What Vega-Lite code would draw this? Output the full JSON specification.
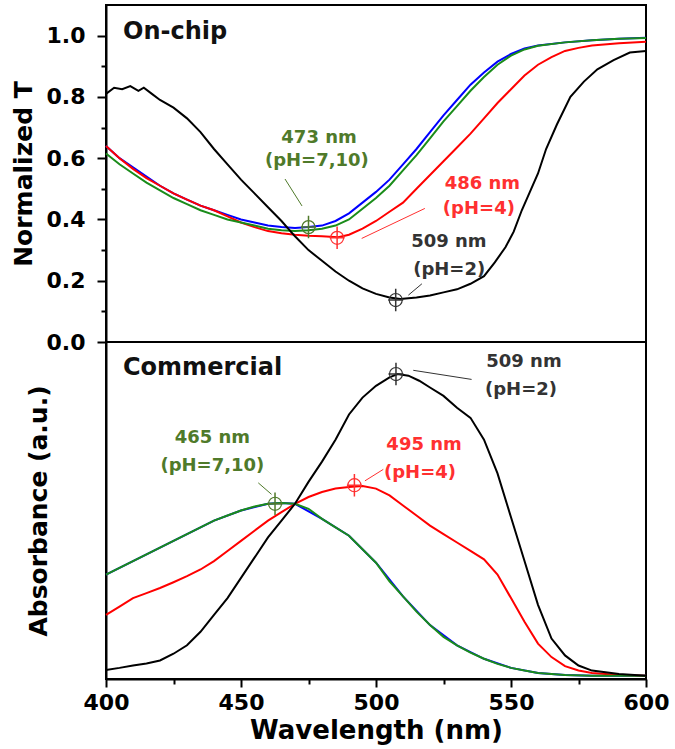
{
  "$schema": "https://vega.github.io/schema/vega-lite/v6.json",
  "padding": {"left": 10, "top": 4, "right": 5, "bottom": 2},
  "background": "white",
  "spacing": 0,
  "bounds": "flush",
  "config": {
    "view": {"stroke": "black", "strokeWidth": 2},
    "font": "DejaVu Sans",
    "axis": {
      "domainColor": "black", "domainWidth": 2, "tickColor": "black", "tickWidth": 2,
      "labelColor": "black", "labelFont": "DejaVu Sans", "labelFontWeight": "bold", "labelFontSize": 22,
      "titleFont": "DejaVu Sans", "titleFontWeight": "bold", "titleFontSize": 25, "titleColor": "black",
      "grid": false, "labelFlush": false, "labelOverlap": false
    }
  },
  "resolve": {"scale": {"x": "independent", "y": "independent"}, "axis": {"x": "independent", "y": "independent"}},
  "datasets": {
    "onchip": [
      {"k":"pH=10","wl":400,"v":0.64},{"k":"pH=10","wl":405,"v":0.6},{"k":"pH=10","wl":410,"v":0.57},{"k":"pH=10","wl":415,"v":0.54},{"k":"pH=10","wl":420,"v":0.51},{"k":"pH=10","wl":425,"v":0.485},{"k":"pH=10","wl":430,"v":0.465},{"k":"pH=10","wl":435,"v":0.445},{"k":"pH=10","wl":440,"v":0.43},{"k":"pH=10","wl":445,"v":0.415},{"k":"pH=10","wl":450,"v":0.4},{"k":"pH=10","wl":455,"v":0.39},{"k":"pH=10","wl":460,"v":0.38},{"k":"pH=10","wl":465,"v":0.375},{"k":"pH=10","wl":470,"v":0.372},{"k":"pH=10","wl":475,"v":0.375},{"k":"pH=10","wl":480,"v":0.38},{"k":"pH=10","wl":485,"v":0.395},{"k":"pH=10","wl":490,"v":0.42},{"k":"pH=10","wl":495,"v":0.455},{"k":"pH=10","wl":500,"v":0.49},{"k":"pH=10","wl":505,"v":0.53},{"k":"pH=10","wl":510,"v":0.58},{"k":"pH=10","wl":515,"v":0.63},{"k":"pH=10","wl":520,"v":0.685},{"k":"pH=10","wl":525,"v":0.74},{"k":"pH=10","wl":530,"v":0.79},{"k":"pH=10","wl":535,"v":0.84},{"k":"pH=10","wl":540,"v":0.88},{"k":"pH=10","wl":545,"v":0.915},{"k":"pH=10","wl":550,"v":0.94},{"k":"pH=10","wl":555,"v":0.958},{"k":"pH=10","wl":560,"v":0.968},{"k":"pH=10","wl":570,"v":0.978},{"k":"pH=10","wl":580,"v":0.985},{"k":"pH=10","wl":590,"v":0.99},{"k":"pH=10","wl":600,"v":0.993},
      {"k":"pH=4","wl":400,"v":0.64},{"k":"pH=4","wl":405,"v":0.6},{"k":"pH=4","wl":410,"v":0.565},{"k":"pH=4","wl":415,"v":0.535},{"k":"pH=4","wl":420,"v":0.51},{"k":"pH=4","wl":425,"v":0.485},{"k":"pH=4","wl":430,"v":0.465},{"k":"pH=4","wl":435,"v":0.445},{"k":"pH=4","wl":440,"v":0.43},{"k":"pH=4","wl":445,"v":0.41},{"k":"pH=4","wl":450,"v":0.39},{"k":"pH=4","wl":455,"v":0.375},{"k":"pH=4","wl":460,"v":0.362},{"k":"pH=4","wl":465,"v":0.355},{"k":"pH=4","wl":470,"v":0.35},{"k":"pH=4","wl":475,"v":0.347},{"k":"pH=4","wl":480,"v":0.345},{"k":"pH=4","wl":486,"v":0.342},{"k":"pH=4","wl":490,"v":0.35},{"k":"pH=4","wl":495,"v":0.37},{"k":"pH=4","wl":500,"v":0.395},{"k":"pH=4","wl":505,"v":0.425},{"k":"pH=4","wl":510,"v":0.455},{"k":"pH=4","wl":515,"v":0.5},{"k":"pH=4","wl":520,"v":0.545},{"k":"pH=4","wl":525,"v":0.59},{"k":"pH=4","wl":530,"v":0.635},{"k":"pH=4","wl":535,"v":0.68},{"k":"pH=4","wl":540,"v":0.73},{"k":"pH=4","wl":545,"v":0.78},{"k":"pH=4","wl":550,"v":0.825},{"k":"pH=4","wl":555,"v":0.87},{"k":"pH=4","wl":560,"v":0.905},{"k":"pH=4","wl":565,"v":0.93},{"k":"pH=4","wl":570,"v":0.95},{"k":"pH=4","wl":575,"v":0.96},{"k":"pH=4","wl":580,"v":0.968},{"k":"pH=4","wl":590,"v":0.975},{"k":"pH=4","wl":600,"v":0.98},
      {"k":"pH=7","wl":400,"v":0.615},{"k":"pH=7","wl":405,"v":0.58},{"k":"pH=7","wl":410,"v":0.55},{"k":"pH=7","wl":415,"v":0.52},{"k":"pH=7","wl":420,"v":0.495},{"k":"pH=7","wl":425,"v":0.47},{"k":"pH=7","wl":430,"v":0.45},{"k":"pH=7","wl":435,"v":0.43},{"k":"pH=7","wl":440,"v":0.415},{"k":"pH=7","wl":445,"v":0.4},{"k":"pH=7","wl":450,"v":0.39},{"k":"pH=7","wl":455,"v":0.38},{"k":"pH=7","wl":460,"v":0.37},{"k":"pH=7","wl":465,"v":0.365},{"k":"pH=7","wl":470,"v":0.362},{"k":"pH=7","wl":475,"v":0.365},{"k":"pH=7","wl":480,"v":0.37},{"k":"pH=7","wl":485,"v":0.38},{"k":"pH=7","wl":490,"v":0.4},{"k":"pH=7","wl":495,"v":0.435},{"k":"pH=7","wl":500,"v":0.47},{"k":"pH=7","wl":505,"v":0.51},{"k":"pH=7","wl":510,"v":0.56},{"k":"pH=7","wl":515,"v":0.61},{"k":"pH=7","wl":520,"v":0.665},{"k":"pH=7","wl":525,"v":0.72},{"k":"pH=7","wl":530,"v":0.77},{"k":"pH=7","wl":535,"v":0.82},{"k":"pH=7","wl":540,"v":0.865},{"k":"pH=7","wl":545,"v":0.905},{"k":"pH=7","wl":550,"v":0.935},{"k":"pH=7","wl":555,"v":0.955},{"k":"pH=7","wl":560,"v":0.967},{"k":"pH=7","wl":570,"v":0.978},{"k":"pH=7","wl":580,"v":0.985},{"k":"pH=7","wl":590,"v":0.99},{"k":"pH=7","wl":600,"v":0.992},
      {"k":"pH=2","wl":400,"v":0.81},{"k":"pH=2","wl":403,"v":0.83},{"k":"pH=2","wl":406,"v":0.825},{"k":"pH=2","wl":409,"v":0.835},{"k":"pH=2","wl":412,"v":0.82},{"k":"pH=2","wl":414,"v":0.83},{"k":"pH=2","wl":417,"v":0.81},{"k":"pH=2","wl":420,"v":0.79},{"k":"pH=2","wl":425,"v":0.765},{"k":"pH=2","wl":430,"v":0.73},{"k":"pH=2","wl":435,"v":0.685},{"k":"pH=2","wl":440,"v":0.63},{"k":"pH=2","wl":445,"v":0.58},{"k":"pH=2","wl":450,"v":0.53},{"k":"pH=2","wl":455,"v":0.485},{"k":"pH=2","wl":460,"v":0.44},{"k":"pH=2","wl":465,"v":0.395},{"k":"pH=2","wl":470,"v":0.345},{"k":"pH=2","wl":475,"v":0.3},{"k":"pH=2","wl":480,"v":0.265},{"k":"pH=2","wl":485,"v":0.23},{"k":"pH=2","wl":490,"v":0.2},{"k":"pH=2","wl":495,"v":0.175},{"k":"pH=2","wl":500,"v":0.157},{"k":"pH=2","wl":505,"v":0.145},{"k":"pH=2","wl":509,"v":0.14},{"k":"pH=2","wl":515,"v":0.145},{"k":"pH=2","wl":520,"v":0.152},{"k":"pH=2","wl":525,"v":0.162},{"k":"pH=2","wl":530,"v":0.172},{"k":"pH=2","wl":535,"v":0.19},{"k":"pH=2","wl":540,"v":0.215},{"k":"pH=2","wl":544,"v":0.26},{"k":"pH=2","wl":548,"v":0.31},{"k":"pH=2","wl":551,"v":0.36},{"k":"pH=2","wl":554,"v":0.43},{"k":"pH=2","wl":557,"v":0.49},{"k":"pH=2","wl":560,"v":0.55},{"k":"pH=2","wl":563,"v":0.63},{"k":"pH=2","wl":567,"v":0.71},{"k":"pH=2","wl":572,"v":0.8},{"k":"pH=2","wl":577,"v":0.85},{"k":"pH=2","wl":582,"v":0.89},{"k":"pH=2","wl":588,"v":0.92},{"k":"pH=2","wl":594,"v":0.945},{"k":"pH=2","wl":600,"v":0.95}
    ],
    "commercial": [
      {"k":"pH=10","wl":400,"v":0.31},{"k":"pH=10","wl":410,"v":0.35},{"k":"pH=10","wl":420,"v":0.39},{"k":"pH=10","wl":430,"v":0.43},{"k":"pH=10","wl":440,"v":0.47},{"k":"pH=10","wl":450,"v":0.5},{"k":"pH=10","wl":460,"v":0.52},{"k":"pH=10","wl":465,"v":0.522},{"k":"pH=10","wl":470,"v":0.52},{"k":"pH=10","wl":480,"v":0.475},{"k":"pH=10","wl":490,"v":0.425},{"k":"pH=10","wl":500,"v":0.345},{"k":"pH=10","wl":510,"v":0.245},{"k":"pH=10","wl":520,"v":0.16},{"k":"pH=10","wl":530,"v":0.1},{"k":"pH=10","wl":540,"v":0.06},{"k":"pH=10","wl":550,"v":0.033},{"k":"pH=10","wl":560,"v":0.018},{"k":"pH=10","wl":570,"v":0.012},{"k":"pH=10","wl":580,"v":0.01},{"k":"pH=10","wl":600,"v":0.01},
      {"k":"pH=4","wl":400,"v":0.19},{"k":"pH=4","wl":405,"v":0.215},{"k":"pH=4","wl":410,"v":0.24},{"k":"pH=4","wl":415,"v":0.255},{"k":"pH=4","wl":420,"v":0.27},{"k":"pH=4","wl":425,"v":0.287},{"k":"pH=4","wl":430,"v":0.305},{"k":"pH=4","wl":435,"v":0.325},{"k":"pH=4","wl":440,"v":0.35},{"k":"pH=4","wl":445,"v":0.38},{"k":"pH=4","wl":450,"v":0.41},{"k":"pH=4","wl":455,"v":0.44},{"k":"pH=4","wl":460,"v":0.47},{"k":"pH=4","wl":465,"v":0.495},{"k":"pH=4","wl":470,"v":0.52},{"k":"pH=4","wl":475,"v":0.54},{"k":"pH=4","wl":480,"v":0.555},{"k":"pH=4","wl":485,"v":0.565},{"k":"pH=4","wl":490,"v":0.57},{"k":"pH=4","wl":495,"v":0.573},{"k":"pH=4","wl":500,"v":0.565},{"k":"pH=4","wl":505,"v":0.545},{"k":"pH=4","wl":510,"v":0.515},{"k":"pH=4","wl":515,"v":0.485},{"k":"pH=4","wl":520,"v":0.455},{"k":"pH=4","wl":525,"v":0.43},{"k":"pH=4","wl":530,"v":0.405},{"k":"pH=4","wl":535,"v":0.38},{"k":"pH=4","wl":540,"v":0.355},{"k":"pH=4","wl":545,"v":0.31},{"k":"pH=4","wl":550,"v":0.24},{"k":"pH=4","wl":555,"v":0.17},{"k":"pH=4","wl":560,"v":0.105},{"k":"pH=4","wl":565,"v":0.065},{"k":"pH=4","wl":570,"v":0.038},{"k":"pH=4","wl":575,"v":0.025},{"k":"pH=4","wl":580,"v":0.018},{"k":"pH=4","wl":590,"v":0.012},{"k":"pH=4","wl":600,"v":0.01},
      {"k":"pH=7","wl":400,"v":0.31},{"k":"pH=7","wl":405,"v":0.33},{"k":"pH=7","wl":410,"v":0.35},{"k":"pH=7","wl":415,"v":0.37},{"k":"pH=7","wl":420,"v":0.39},{"k":"pH=7","wl":425,"v":0.41},{"k":"pH=7","wl":430,"v":0.43},{"k":"pH=7","wl":435,"v":0.45},{"k":"pH=7","wl":440,"v":0.47},{"k":"pH=7","wl":445,"v":0.485},{"k":"pH=7","wl":450,"v":0.5},{"k":"pH=7","wl":455,"v":0.512},{"k":"pH=7","wl":460,"v":0.52},{"k":"pH=7","wl":465,"v":0.522},{"k":"pH=7","wl":470,"v":0.52},{"k":"pH=7","wl":475,"v":0.505},{"k":"pH=7","wl":480,"v":0.475},{"k":"pH=7","wl":485,"v":0.45},{"k":"pH=7","wl":490,"v":0.425},{"k":"pH=7","wl":495,"v":0.385},{"k":"pH=7","wl":500,"v":0.345},{"k":"pH=7","wl":505,"v":0.29},{"k":"pH=7","wl":510,"v":0.245},{"k":"pH=7","wl":515,"v":0.2},{"k":"pH=7","wl":520,"v":0.16},{"k":"pH=7","wl":525,"v":0.125},{"k":"pH=7","wl":530,"v":0.1},{"k":"pH=7","wl":535,"v":0.078},{"k":"pH=7","wl":540,"v":0.06},{"k":"pH=7","wl":545,"v":0.045},{"k":"pH=7","wl":550,"v":0.033},{"k":"pH=7","wl":555,"v":0.025},{"k":"pH=7","wl":560,"v":0.018},{"k":"pH=7","wl":570,"v":0.012},{"k":"pH=7","wl":580,"v":0.01},{"k":"pH=7","wl":590,"v":0.01},{"k":"pH=7","wl":600,"v":0.01},
      {"k":"pH=2","wl":400,"v":0.027},{"k":"pH=2","wl":405,"v":0.033},{"k":"pH=2","wl":410,"v":0.04},{"k":"pH=2","wl":415,"v":0.046},{"k":"pH=2","wl":420,"v":0.055},{"k":"pH=2","wl":425,"v":0.075},{"k":"pH=2","wl":430,"v":0.1},{"k":"pH=2","wl":435,"v":0.14},{"k":"pH=2","wl":440,"v":0.19},{"k":"pH=2","wl":445,"v":0.24},{"k":"pH=2","wl":450,"v":0.3},{"k":"pH=2","wl":455,"v":0.36},{"k":"pH=2","wl":460,"v":0.42},{"k":"pH=2","wl":465,"v":0.47},{"k":"pH=2","wl":470,"v":0.52},{"k":"pH=2","wl":475,"v":0.585},{"k":"pH=2","wl":480,"v":0.645},{"k":"pH=2","wl":485,"v":0.71},{"k":"pH=2","wl":490,"v":0.785},{"k":"pH=2","wl":495,"v":0.835},{"k":"pH=2","wl":500,"v":0.87},{"k":"pH=2","wl":505,"v":0.895},{"k":"pH=2","wl":508,"v":0.905},{"k":"pH=2","wl":512,"v":0.9},{"k":"pH=2","wl":516,"v":0.885},{"k":"pH=2","wl":520,"v":0.865},{"k":"pH=2","wl":525,"v":0.84},{"k":"pH=2","wl":530,"v":0.805},{"k":"pH=2","wl":535,"v":0.775},{"k":"pH=2","wl":540,"v":0.71},{"k":"pH=2","wl":545,"v":0.61},{"k":"pH=2","wl":550,"v":0.48},{"k":"pH=2","wl":555,"v":0.35},{"k":"pH=2","wl":560,"v":0.22},{"k":"pH=2","wl":565,"v":0.12},{"k":"pH=2","wl":570,"v":0.07},{"k":"pH=2","wl":575,"v":0.04},{"k":"pH=2","wl":580,"v":0.025},{"k":"pH=2","wl":590,"v":0.015},{"k":"pH=2","wl":600,"v":0.01}
    ],
    "leaders": [
      {"p":"t","k":"a7","wl":466.3,"v":0.532,"wl2":472.6,"v2":0.444},
      {"p":"t","k":"a4","wl":494.7,"v":0.338,"wl2":518.1,"v2":0.436},
      {"p":"t","k":"a2","wl":512,"v":0.153,"wl2":517,"v2":0.19},
      {"p":"b","k":"a7","wl":456.4,"v":0.582,"wl2":461.3,"v2":0.548},
      {"p":"b","k":"a4","wl":495.9,"v":0.588,"wl2":502.7,"v2":0.622},
      {"p":"b","k":"a2","wl":513.8,"v":0.916,"wl2":535.4,"v2":0.889}
    ],
    "markers": [
      {"p":"t","k":"a7","wl":475,"v":0.375},
      {"p":"t","k":"a4","wl":485.6,"v":0.34},
      {"p":"t","k":"a2","wl":507.3,"v":0.137},
      {"p":"b","k":"a7","wl":462.6,"v":0.52},
      {"p":"b","k":"a4","wl":492,"v":0.575},
      {"p":"b","k":"a2","wl":507.4,"v":0.905}
    ],
    "notes": [
      {"p":"t","k":"a7","t":"473 nm","wl":478.9,"v":0.666},
      {"p":"t","k":"a7","t":"(pH=7,10)","wl":478.1,"v":0.59},
      {"p":"t","k":"a4","t":"486 nm","wl":539.4,"v":0.517},
      {"p":"t","k":"a4","t":"(pH=4)","wl":538.1,"v":0.434},
      {"p":"t","k":"a2","t":"509 nm","wl":527,"v":0.326},
      {"p":"t","k":"a2","t":"(pH=2)","wl":527.1,"v":0.235},
      {"p":"b","k":"a7","t":"465 nm","wl":439.4,"v":0.714},
      {"p":"b","k":"a7","t":"(pH=7,10)","wl":439.4,"v":0.632},
      {"p":"b","k":"a4","t":"495 nm","wl":517.8,"v":0.693},
      {"p":"b","k":"a4","t":"(pH=4)","wl":516.3,"v":0.61},
      {"p":"b","k":"a2","t":"509 nm","wl":554.8,"v":0.942},
      {"p":"b","k":"a2","t":"(pH=2)","wl":553.7,"v":0.859}
    ],
    "heads": [
      {"p":"t","t":"On-chip","wl":406.3,"v":1.012},
      {"p":"b","t":"Commercial","wl":406.3,"v":0.923}
    ]
  },
  "vconcat": [
    {
      "width": 540, "height": 337,
      "encoding": {
        "x": {"field": "wl", "type": "quantitative", "scale": {"domain": [400, 600], "nice": false, "zero": false}, "axis": null},
        "y": {"field": "v", "type": "quantitative", "scale": {"domain": [0, 1.1], "nice": false, "zero": false},
          "axis": {"title": "Normalized T", "values": [0, 0.1, 0.2, 0.3, 0.4, 0.5, 0.6, 0.7, 0.8, 0.9, 1.0],
            "labelExpr": "round(datum.value*10) % 2 === 0 ? format(datum.value, '.1f') : ''",
            "tickSize": {"condition": {"test": "round(datum.value*10) % 2 === 0", "value": 9}, "value": 5},
            "labelPadding": 12, "titlePadding": 10}}
      },
      "layer": [
        {"data": {"name": "onchip"}, "mark": {"type": "line", "strokeWidth": 2},
          "encoding": {"color": {"field": "k", "type": "nominal", "legend": null,
            "scale": {"domain": ["pH=2","pH=4","pH=7","pH=10","a2","a4","a7"], "range": ["#000000","#ff0000","#1a8c1a","#0000ff","#333333","#ff3030","#4f7a2a"]}}}},
        {"data": {"name": "leaders"}, "transform": [{"filter": "datum.p === 't'"}], "mark": {"type": "rule", "strokeWidth": 1},
          "encoding": {"x2": {"field": "wl2"}, "y2": {"field": "v2"}, "color": {"field": "k", "type": "nominal", "legend": null,
            "scale": {"domain": ["pH=2","pH=4","pH=7","pH=10","a2","a4","a7"], "range": ["#000000","#ff0000","#1a8c1a","#0000ff","#333333","#ff3030","#4f7a2a"]}}}},
        {"data": {"name": "markers"}, "transform": [{"filter": "datum.p === 't'"}], "mark": {"type": "point", "shape": "circle", "filled": false, "size": 170, "strokeWidth": 1.2, "opacity": 1},
          "encoding": {"color": {"field": "k", "type": "nominal", "legend": null,
            "scale": {"domain": ["pH=2","pH=4","pH=7","pH=10","a2","a4","a7"], "range": ["#000000","#ff0000","#1a8c1a","#0000ff","#333333","#ff3030","#4f7a2a"]}}}},
        {"data": {"name": "markers"}, "transform": [{"filter": "datum.p === 't'"}], "mark": {"type": "point", "shape": "M-1,0H1M0,-1.5V1.5", "filled": false, "size": 225, "strokeWidth": 1.5, "opacity": 1},
          "encoding": {"color": {"field": "k", "type": "nominal", "legend": null,
            "scale": {"domain": ["pH=2","pH=4","pH=7","pH=10","a2","a4","a7"], "range": ["#000000","#ff0000","#1a8c1a","#0000ff","#333333","#ff3030","#4f7a2a"]}}}},
        {"data": {"name": "notes"}, "transform": [{"filter": "datum.p === 't'"}], "mark": {"type": "text", "font": "DejaVu Sans", "fontWeight": "bold", "fontSize": 18, "align": "center", "baseline": "middle"},
          "encoding": {"text": {"field": "t"}, "color": {"field": "k", "type": "nominal", "legend": null,
            "scale": {"domain": ["pH=2","pH=4","pH=7","pH=10","a2","a4","a7"], "range": ["#000000","#ff0000","#1a8c1a","#0000ff","#222222","#ff2020","#4f7a2a"]}}}},
        {"data": {"name": "heads"}, "transform": [{"filter": "datum.p === 't'"}], "mark": {"type": "text", "font": "DejaVu Sans", "fontWeight": "bold", "fontSize": 24, "align": "left", "baseline": "middle", "color": "#111111"},
          "encoding": {"text": {"field": "t"}}}
      ]
    },
    {
      "width": 540, "height": 337,
      "encoding": {
        "x": {"field": "wl", "type": "quantitative", "scale": {"domain": [400, 600], "nice": false, "zero": false},
          "axis": {"title": "Wavelength (nm)", "values": [400, 425, 450, 475, 500, 525, 550, 575, 600],
            "labelExpr": "datum.value % 50 === 0 ? datum.label : ''",
            "tickSize": {"condition": {"test": "datum.value % 50 === 0", "value": 8}, "value": 5},
            "labelPadding": 5, "titleFontSize": 26, "titlePadding": 4}},
        "y": {"field": "v", "type": "quantitative", "scale": {"domain": [0, 1], "nice": false, "zero": false},
          "axis": {"title": "Absorbance (a.u.)", "labels": false, "ticks": false, "titlePadding": 55}}
      },
      "layer": [
        {"data": {"name": "commercial"}, "mark": {"type": "line", "strokeWidth": 2},
          "encoding": {"color": {"field": "k", "type": "nominal", "legend": null,
            "scale": {"domain": ["pH=2","pH=4","pH=7","pH=10","a2","a4","a7"], "range": ["#000000","#ff0000","#1a8c1a","#0000ff","#333333","#ff3030","#4f7a2a"]}}}},
        {"data": {"name": "leaders"}, "transform": [{"filter": "datum.p === 'b'"}], "mark": {"type": "rule", "strokeWidth": 1},
          "encoding": {"x2": {"field": "wl2"}, "y2": {"field": "v2"}, "color": {"field": "k", "type": "nominal", "legend": null,
            "scale": {"domain": ["pH=2","pH=4","pH=7","pH=10","a2","a4","a7"], "range": ["#000000","#ff0000","#1a8c1a","#0000ff","#333333","#ff3030","#4f7a2a"]}}}},
        {"data": {"name": "markers"}, "transform": [{"filter": "datum.p === 'b'"}], "mark": {"type": "point", "shape": "circle", "filled": false, "size": 170, "strokeWidth": 1.2, "opacity": 1},
          "encoding": {"color": {"field": "k", "type": "nominal", "legend": null,
            "scale": {"domain": ["pH=2","pH=4","pH=7","pH=10","a2","a4","a7"], "range": ["#000000","#ff0000","#1a8c1a","#0000ff","#333333","#ff3030","#4f7a2a"]}}}},
        {"data": {"name": "markers"}, "transform": [{"filter": "datum.p === 'b'"}], "mark": {"type": "point", "shape": "M-1,0H1M0,-1.5V1.5", "filled": false, "size": 225, "strokeWidth": 1.5, "opacity": 1},
          "encoding": {"color": {"field": "k", "type": "nominal", "legend": null,
            "scale": {"domain": ["pH=2","pH=4","pH=7","pH=10","a2","a4","a7"], "range": ["#000000","#ff0000","#1a8c1a","#0000ff","#333333","#ff3030","#4f7a2a"]}}}},
        {"data": {"name": "notes"}, "transform": [{"filter": "datum.p === 'b'"}], "mark": {"type": "text", "font": "DejaVu Sans", "fontWeight": "bold", "fontSize": 18, "align": "center", "baseline": "middle"},
          "encoding": {"text": {"field": "t"}, "color": {"field": "k", "type": "nominal", "legend": null,
            "scale": {"domain": ["pH=2","pH=4","pH=7","pH=10","a2","a4","a7"], "range": ["#000000","#ff0000","#1a8c1a","#0000ff","#222222","#ff2020","#4f7a2a"]}}}},
        {"data": {"name": "heads"}, "transform": [{"filter": "datum.p === 'b'"}], "mark": {"type": "text", "font": "DejaVu Sans", "fontWeight": "bold", "fontSize": 24, "align": "left", "baseline": "middle", "color": "#111111"},
          "encoding": {"text": {"field": "t"}}}
      ]
    }
  ]
}
